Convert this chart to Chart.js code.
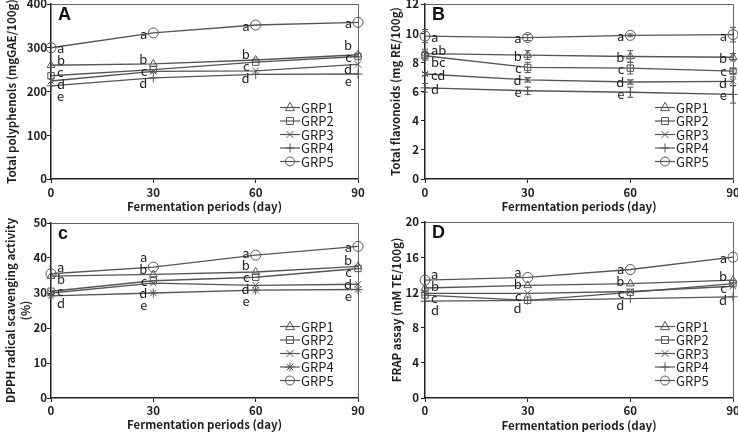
<!DOCTYPE html>
<html><head><meta charset="utf-8">
<script src="https://cdn.jsdelivr.net/npm/chart.js@4.4.1/dist/chart.umd.min.js"></script>
<style>
html,body{margin:0;padding:0;background:#fff;}
body{width:738px;height:432px;overflow:hidden;position:relative;}
canvas{position:absolute;}
</style></head><body>
<canvas id="cA"></canvas><canvas id="cB"></canvas><canvas id="cC"></canvas><canvas id="cD"></canvas>
<script>
// ---------- data ----------
const days = [0, 30, 60, 90];
const groupNames = ['GRP1', 'GRP2', 'GRP3', 'GRP4', 'GRP5'];

// Panel A: total polyphenols (mgGAE/100g)
const polyGRP1 = [260, 263, 272, 284];
const polyGRP2 = [236, 250, 267, 280];
const polyGRP3 = [224, 246, 247, 262];
const polyGRP4 = [213, 231, 239, 240];
const polyGRP5 = [300, 334, 352, 358];
const polyLet1 = ['b', 'b', 'b', 'b'];
const polyLet2 = ['c', 'c', 'c', 'c'];
const polyLet3 = ['d', '', '', 'd'];
const polyLet4 = ['e', 'd', 'd', 'e'];
const polyLet5 = ['a', 'a', 'a', 'a'];

// Panel B: total flavonoids (mg RE/100g)
const flavGRP1 = [8.6, 8.5, 8.4, 8.35];
const flavGRP2 = [8.45, 7.65, 7.6, 7.4];
const flavGRP3 = [7.2, 6.8, 6.65, 6.7];
const flavGRP4 = [6.25, 6.05, 5.95, 5.8];
const flavGRP5 = [9.8, 9.7, 9.85, 9.9];
const flavErr1 = [0.3, 0.3, 0.4, 0.25];
const flavErr2 = [0.3, 0.35, 0.4, 0.15];
const flavErr3 = [0.1, 0.15, 0.15, 0.3];
const flavErr4 = [0.3, 0.25, 0.35, 0.6];
const flavErr5 = [0.45, 0.2, 0.1, 0.5];
const flavLet1 = ['ab', 'b', 'b', 'b'];
const flavLet2 = ['bc', 'c', 'c', 'c'];
const flavLet3 = ['cd', 'd', 'd', 'd'];
const flavLet4 = ['d', 'e', 'e', 'e'];
const flavLet5 = ['a', 'a', 'a', 'a'];

// Panel C: DPPH radical scavenging activity (%)
const dpphGRP1 = [34.8, 35.3, 36.0, 37.6];
const dpphGRP2 = [30.5, 33.5, 34.5, 37.0];
const dpphGRP3 = [30.0, 32.8, 32.2, 32.5];
const dpphGRP4 = [29.2, 30.0, 30.8, 31.0];
const dpphGRP5 = [35.5, 37.4, 40.8, 43.3];
const dpphLet1 = ['b', 'b', 'b', 'b'];
const dpphLet2 = ['c', 'c', 'c', 'c'];
const dpphLet3 = ['', 'd', 'd', 'd'];
const dpphLet4 = ['d', 'e', 'e', 'e'];
const dpphLet5 = ['a', 'a', 'a', 'a'];

// Panel D: FRAP assay (mM TE/100g)
const frapGRP1 = [12.5, 12.8, 13.0, 13.4];
const frapGRP2 = [11.7, 11.1, 12.0, 13.0];
const frapGRP3 = [11.9, 11.9, 12.1, 12.7];
const frapGRP4 = [11.0, 11.1, 11.3, 11.5];
const frapGRP5 = [13.4, 13.7, 14.6, 16.0];
const frapLet1 = ['b', 'b', 'b', 'b'];
const frapLet2 = ['c', '', '', 'c'];
const frapLet3 = ['', 'c', 'c', ''];
const frapLet4 = ['d', 'd', 'd', 'd'];
const frapLet5 = ['a', 'a', 'a', 'a'];

const xTitle = 'Fermentation periods (day)';

// ---------- layout / style ----------
const TXT = '#1e1e1e';
const LINE = '#555';
const FONT = "'Noto Sans CJK KR', 'Noto Sans', sans-serif";
const TITLE_SIZE = 11.5, TITLE_LH = 1.3;
const TICK_SIZE = 11.5;

const panels = [
  { id: 'cA', tag: 'A', area: [51, 4, 358, 179], xH: 37, ymax: 400, step: 100,
    title: 'Total polyphenols (mgGAE/100g)', titleX: 12, xTitleY: 206.7, xTickPad: 3, yTickPad: 0,
    values: [polyGRP1, polyGRP2, polyGRP3, polyGRP4, polyGRP5],
    letters: [polyLet1, polyLet2, polyLet3, polyLet4, polyLet5], errors: null, star: false },
  { id: 'cB', tag: 'B', area: [425, 4, 733, 179], xH: 37, ymax: 12, step: 2,
    title: 'Total flavonoids (mg RE/100g)', titleX: 396, xTitleY: 206.7, xTickPad: 3, yTickPad: 2,
    values: [flavGRP1, flavGRP2, flavGRP3, flavGRP4, flavGRP5],
    letters: [flavLet1, flavLet2, flavLet3, flavLet4, flavLet5],
    errors: [flavErr1, flavErr2, flavErr3, flavErr4, flavErr5], star: false },
  { id: 'cC', tag: 'c', area: [51, 223, 358, 398], xH: 35, ymax: 50, step: 10,
    title: ['DPPH radical scavenging activity', '(%)'], titleX: 11, xTitleY: 425, xTickPad: 2, yTickPad: 0,
    values: [dpphGRP1, dpphGRP2, dpphGRP3, dpphGRP4, dpphGRP5],
    letters: [dpphLet1, dpphLet2, dpphLet3, dpphLet4, dpphLet5], errors: null, star: true },
  { id: 'cD', tag: 'D', area: [425, 222, 733, 398], xH: 35, ymax: 20, step: 4,
    title: 'FRAP assay (mM TE/100g)', titleX: 397, xTitleY: 425.5, xTickPad: 2, yTickPad: 2,
    values: [frapGRP1, frapGRP2, frapGRP3, frapGRP4, frapGRP5],
    letters: [frapLet1, frapLet2, frapLet3, frapLet4, frapLet5], errors: null, star: false }
];

function drawMarker(ctx, style, x, y, r) {
  ctx.beginPath();
  if (style === 'triangle') {
    ctx.moveTo(x, y - r * 1.15); ctx.lineTo(x + r, y + r * 0.7); ctx.lineTo(x - r, y + r * 0.7); ctx.closePath();
  } else if (style === 'rect') {
    ctx.rect(x - r * 0.78, y - r * 0.78, r * 1.56, r * 1.56);
  } else if (style === 'crossRot') {
    const d = r * 0.78;
    ctx.moveTo(x - d, y - d); ctx.lineTo(x + d, y + d); ctx.moveTo(x + d, y - d); ctx.lineTo(x - d, y + d);
  } else if (style === 'cross') {
    ctx.moveTo(x - r, y); ctx.lineTo(x + r, y); ctx.moveTo(x, y - r); ctx.lineTo(x, y + r);
  } else if (style === 'star') {
    const d = r * 0.72;
    ctx.moveTo(x - r, y); ctx.lineTo(x + r, y); ctx.moveTo(x, y - r); ctx.lineTo(x, y + r);
    ctx.moveTo(x - d, y - d); ctx.lineTo(x + d, y + d); ctx.moveTo(x + d, y - d); ctx.lineTo(x - d, y + d);
  } else {
    ctx.arc(x, y, r, 0, Math.PI * 2);
  }
  ctx.stroke();
}

function spread(items, gap) {
  items.sort((a, b) => a.y - b.y);
  for (let it = 0; it < 200; it++) {
    let moved = false;
    for (let i = 0; i < items.length - 1; i++) {
      const d = items[i + 1].y - items[i].y;
      if (d < gap - 0.01) {
        const s = (gap - d) / 2;
        items[i].y -= s; items[i + 1].y += s; moved = true;
      }
    }
    if (!moved) break;
  }
}

const panelPlugin = {
  id: 'panelDeco',
  beforeDatasetsDraw(chart) {
    const { ctx, chartArea: a } = chart;
    ctx.save();
    ctx.strokeStyle = '#666'; ctx.lineWidth = 1;
    ctx.beginPath();
    ctx.moveTo(a.left, a.top + 0.5); ctx.lineTo(a.right + 0.5, a.top + 0.5); ctx.lineTo(a.right + 0.5, a.bottom);
    ctx.stroke();
    ctx.restore();
  },
  afterDatasetsDraw(chart) {
    const { ctx, chartArea: a } = chart;
    const yS = chart.scales.y;
    const dsets = chart.data.datasets;
    ctx.save();
    // error bars
    ctx.strokeStyle = LINE; ctx.lineWidth = 1;
    dsets.forEach((ds, i) => {
      if (!ds.errors) return;
      const meta = chart.getDatasetMeta(i);
      ds.errors.forEach((e, j) => {
        const el = meta.data[j];
        const v = ds.data[j].y;
        const y1 = yS.getPixelForValue(v + e), y2 = yS.getPixelForValue(v - e);
        ctx.beginPath();
        ctx.moveTo(el.x, y1); ctx.lineTo(el.x, y2);
        ctx.moveTo(el.x - 3, y1); ctx.lineTo(el.x + 3, y1);
        ctx.moveTo(el.x - 3, y2); ctx.lineTo(el.x + 3, y2);
        ctx.stroke();
      });
    });
    // significance letters
    ctx.font = '13px ' + FONT; ctx.fillStyle = TXT; ctx.textBaseline = 'middle';
    for (let j = 0; j < days.length; j++) {
      const items = [];
      dsets.forEach((ds, i) => {
        const t = ds.letters[j];
        if (!t) return;
        const el = chart.getDatasetMeta(i).data[j];
        items.push({ t, x: el.x, y: el.y + 1 });
      });
      spread(items, 12);
      items.forEach(it => {
        if (j === 0) { ctx.textAlign = 'left'; ctx.fillText(it.t, it.x + 6, it.y); }
        else { ctx.textAlign = 'right'; ctx.fillText(it.t, it.x - 6, it.y); }
      });
    }
    // legend
    const n = dsets.length;
    dsets.forEach((ds, i) => {
      const y = a.bottom - 17.5 - (n - 1 - i) * 13.5;
      ctx.strokeStyle = LINE; ctx.lineWidth = 1.2;
      ctx.beginPath(); ctx.moveTo(a.right - 78, y); ctx.lineTo(a.right - 58, y); ctx.stroke();
      ctx.lineWidth = 1;
      drawMarker(ctx, ds.pointStyle, a.right - 68, y, 4.5);
      ctx.textAlign = 'left'; ctx.fillStyle = TXT; ctx.font = '13px ' + FONT;
      ctx.fillText(ds.label, a.right - 57, y + 0.5);
    });
    // panel tag
    ctx.font = 'bold 18px "Liberation Sans", Arial, sans-serif';
    ctx.textAlign = 'left'; ctx.textBaseline = 'middle'; ctx.fillStyle = '#111';
    ctx.fillText(chart.options.panelTag, a.left + 7, a.top + 11);
    ctx.restore();
  }
};

function makePanel(p) {
  const yW = 60, pt = 15, pr = 20;
  const [l, t, r, b] = p.area;
  const W = (r - l) + yW + pr, H = (b - t) + pt + p.xH;
  const cv = document.getElementById(p.id);
  cv.width = W; cv.height = H;
  cv.style.width = W + 'px'; cv.style.height = H + 'px';
  cv.style.left = (l - yW) + 'px'; cv.style.top = (t - pt) + 'px';
  const lh = TITLE_SIZE * TITLE_LH;
  const styles = ['triangle', 'rect', 'crossRot', p.star ? 'star' : 'cross', 'circle'];
  const datasets = groupNames.map((name, i) => ({
    label: name,
    data: days.map((d, j) => ({ x: d, y: p.values[i][j] })),
    letters: p.letters[i],
    errors: p.errors ? p.errors[i] : null,
    borderColor: LINE, borderWidth: 1.3,
    pointStyle: styles[i],
    pointRadius: i === 4 ? 5 : 4.5,
    pointBorderColor: LINE, pointBorderWidth: 1,
    pointBackgroundColor: 'rgba(255,255,255,0)',
    fill: false, tension: 0, clip: false
  }));
  const titleFont = { family: FONT, size: TITLE_SIZE, weight: 'bold', lineHeight: TITLE_LH };
  new Chart(cv, {
    type: 'line',
    data: { datasets },
    plugins: [panelPlugin],
    options: {
      panelTag: p.tag,
      responsive: false, animation: false, devicePixelRatio: 1,
      layout: { padding: { left: 0, top: pt, right: pr, bottom: 0 } },
      plugins: { legend: { display: false }, tooltip: { enabled: false } },
      scales: {
        x: {
          type: 'linear', min: 0, max: 90,
          ticks: { stepSize: 30, padding: p.xTickPad, color: TXT, maxRotation: 0, autoSkip: false,
                   font: { family: FONT, size: TICK_SIZE, weight: 'bold' } },
          grid: { drawOnChartArea: false, tickLength: 4, tickColor: '#222', tickWidth: 1 },
          border: { color: '#222', width: 1.5 },
          title: { display: true, text: xTitle, color: TXT, font: titleFont,
                   padding: { top: 0, bottom: Math.max(0, (b + p.xH) - lh / 2 - p.xTitleY) } },
          afterFit: s => { s.height = p.xH; }
        },
        y: {
          type: 'linear', min: 0, max: p.ymax,
          ticks: { stepSize: p.step, padding: p.yTickPad, color: TXT,
                   font: { family: FONT, size: TICK_SIZE, weight: 'bold' } },
          grid: { drawOnChartArea: false, tickLength: 4, tickColor: '#222', tickWidth: 1 },
          border: { color: '#222', width: 1.5 },
          title: { display: true, text: p.title, color: TXT, font: titleFont,
                   padding: { top: p.titleX - (l - yW) - lh / 2, bottom: 0 } },
          afterFit: s => { s.width = yW; }
        }
      }
    }
  });
}

panels.forEach(makePanel);
</script>
</body></html>
